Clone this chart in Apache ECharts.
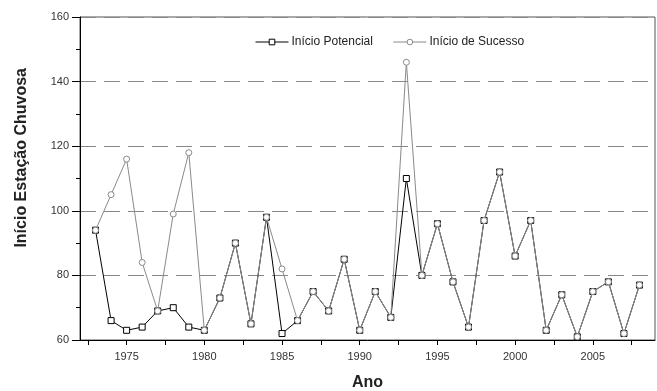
<!DOCTYPE html>
<html>
<head>
<meta charset="utf-8">
<script src="https://cdn.jsdelivr.net/npm/echarts@6/dist/echarts.min.js"></script>
<style>html,body{margin:0;padding:0;background:#fff}#c{width:657px;height:391px}</style>
</head>
<body>
<div id="c"></div>
<script>
const years = [1973,1974,1975,1976,1977,1978,1979,1980,1981,1982,1983,1984,1985,1986,1987,1988,1989,1990,1991,1992,1993,1994,1995,1996,1997,1998,1999,2000,2001,2002,2003,2004,2005,2006,2007,2008];
const inicioPotencial = [94,66,63,64,69,70,64,63,73,90,65,98,62,66,75,69,85,63,75,67,110,80,96,78,64,97,112,86,97,63,74,61,75,78,62,77];
const inicioSucesso  = [94,105,116,84,69,99,118,63,73,90,65,98,82,66,75,69,85,63,75,67,146,80,96,78,64,97,112,86,97,63,74,61,75,78,62,77];
const xLabels = [1975,1980,1985,1990,1995,2000,2005];
const xTicks = [1972.5,1975,1977.5,1980,1982.5,1985,1987.5,1990,1992.5,1995,1997.5,2000,2002.5,2005,2007.5];

const font = '"Liberation Sans", Arial, sans-serif';
const chart = echarts.init(document.getElementById('c'), null, {renderer:'canvas'});
chart.setOption({
  animation: false,
  backgroundColor: '#fff',
  textStyle: {fontFamily: font},
  grid: {left: 80, top: 17, right: 2, bottom: 51, show: true, borderColor: '#555', borderWidth: 1, containLabel: false, outerBoundsMode: 'none'},
  graphic: [{
    type: 'text', left: 14, top: 68, rotation: Math.PI / 2,
    style: {text: 'Início Estação Chuvosa', font: 'bold 16px ' + font, fill: '#222'}
  }],
  legend: {
    left: 250, top: 31, itemWidth: 33, itemHeight: 7, itemGap: 20,
    lineStyle: {width: 1},
    textStyle: {fontFamily: font, fontSize: 12, color: '#222', padding: [0, 0, 0, -2]},
    data: [
      {name: 'Início Potencial', itemStyle: {color: '#fff', borderColor: '#000', borderWidth: 1}},
      {name: 'Início de Sucesso', itemStyle: {color: '#fff', borderColor: '#8a8a8a', borderWidth: 1}}
    ]
  },
  xAxis: {
    type: 'value', min: 1972, max: 2009,
    name: 'Ano', nameLocation: 'middle', nameGap: 35,
    nameTextStyle: {fontFamily: font, fontSize: 16, fontWeight: 'bold', color: '#222'},
    axisLine: {show: true, onZero: false, lineStyle: {color: '#000', width: 1}},
    axisTick: {show: true, inside: false, length: 5, customValues: xTicks, lineStyle: {color: '#000'}},
    axisLabel: {show: true, customValues: xLabels, fontSize: 11, color: '#333', margin: 11, fontFamily: font,
      formatter: v => String(Math.round(v))},
    splitLine: {show: false}
  },
  yAxis: {
    type: 'value', min: 60, max: 160, interval: 20,
    axisLine: {show: true, lineStyle: {color: '#000', width: 1}},
    axisTick: {show: true, inside: false, length: 8, lineStyle: {color: '#000'}},
    minorTick: {show: true, splitNumber: 2, length: 4, lineStyle: {color: '#000'}},
    axisLabel: {fontSize: 11, color: '#333', margin: 11, fontFamily: font},
    splitLine: {show: true, lineStyle: {color: '#888', width: 1, type: [16, 8]}}
  },
  series: [
    {
      name: 'Início Potencial', type: 'line',
      data: years.map((y, i) => [y, inicioPotencial[i]]),
      symbol: 'rect', symbolSize: 6,
      itemStyle: {color: '#fff', borderColor: '#000', borderWidth: 1},
      lineStyle: {color: '#000', width: 1},
      z: 2
    },
    {
      name: 'Início de Sucesso', type: 'line',
      data: years.map((y, i) => [y, inicioSucesso[i]]),
      symbol: 'circle', symbolSize: 6,
      itemStyle: {color: '#fff', borderColor: '#8a8a8a', borderWidth: 1},
      lineStyle: {color: '#8a8a8a', width: 1},
      z: 3
    }
  ]
});
</script>
</body>
</html>
